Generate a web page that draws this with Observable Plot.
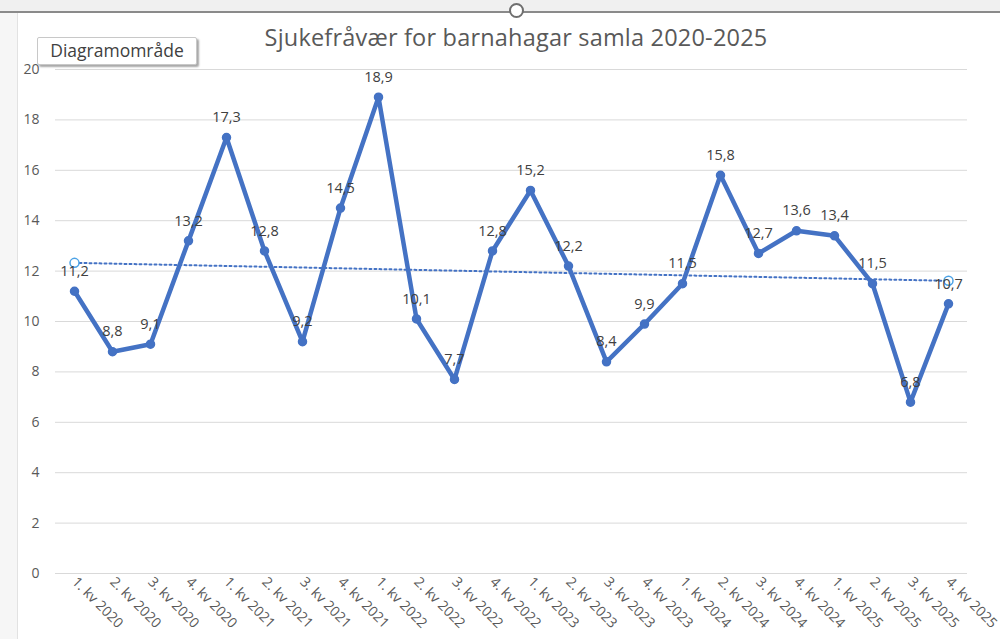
<!DOCTYPE html>
<html>
<head>
<meta charset="utf-8">
<script src="https://cdn.jsdelivr.net/npm/d3@7"></script>
<script src="https://cdn.jsdelivr.net/npm/@observablehq/plot@0.6"></script>
<style>
  html, body { margin: 0; padding: 0; width: 1000px; height: 639px; overflow: hidden; background: #f2f2f2; font-family: "Open Sans", "DejaVu Sans", sans-serif; }
  #leftstrip { position: absolute; left: 0; top: 0; width: 17px; height: 639px; background: #f6f6f6; border-right: 1px solid #e2e2e2; }
  #topstrip { position: absolute; left: 0; top: 0; width: 1000px; height: 11px; background: #f0f0f0; border-bottom: 2px solid #8a8a8a; }
  #chartbg { position: absolute; left: 18px; top: 13px; width: 982px; height: 626px; background: #ffffff; }
  #handle { position: absolute; left: 509px; top: 3px; width: 11px; height: 11px; border: 2px solid #6f6f6f; border-radius: 50%; background: #ffffff; }
  #title { position: absolute; left: 0; width: 1032px; top: 21px; text-align: center; font-size: 23.5px; color: #595959; font-family: "Open Sans", sans-serif; letter-spacing: 0.2px; }
  #tip { position: absolute; left: 37px; top: 37px; width: 158px; height: 26px; background: #ffffff; border: 1px solid #c8c8c8; border-radius: 2px; box-shadow: 2px 2px 2px rgba(0,0,0,0.35); font-size: 17.5px; color: #404040; line-height: 25px; text-align: center; }
  #plot { position: absolute; left: 0; top: 0; }
</style>
</head>
<body>
<div id="leftstrip"></div>
<div id="topstrip"></div>
<div id="chartbg"></div>
<div id="title">Sjukefråvær for barnahagar samla 2020-2025</div>
<div id="plot"></div>
<div id="handle"></div>
<div id="tip">Diagramområde</div>
<script>
const quarters = [
  "1. kv 2020","2. kv 2020","3. kv 2020","4. kv 2020",
  "1. kv 2021","2. kv 2021","3. kv 2021","4. kv 2021",
  "1. kv 2022","2. kv 2022","3. kv 2022","4. kv 2022",
  "1. kv 2023","2. kv 2023","3. kv 2023","4. kv 2023",
  "1. kv 2024","2. kv 2024","3. kv 2024","4. kv 2024",
  "1. kv 2025","2. kv 2025","3. kv 2025","4. kv 2025"
];
const values = [
  11.2, 8.8, 9.1, 13.2,
  17.3, 12.8, 9.2, 14.5,
  18.9, 10.1, 7.7, 12.8,
  15.2, 12.2, 8.4, 9.9,
  11.5, 15.8, 12.7, 13.6,
  13.4, 11.5, 6.8, 10.7
];
const yTicks = [0, 2, 4, 6, 8, 10, 12, 14, 16, 18, 20];

const data = quarters.map((q, i) => ({q, i, v: values[i]}));

// Linear trend line (least squares) derived from the data
const n = data.length;
const mx = d3.mean(data, d => d.i), my = d3.mean(data, d => d.v);
const slope = d3.sum(data, d => (d.i - mx) * (d.v - my)) / d3.sum(data, d => (d.i - mx) ** 2);
const icpt = my - slope * mx;
const trend = [
  {q: quarters[0], v: icpt},
  {q: quarters[n - 1], v: icpt + slope * (n - 1)}
];

const fmt = v => v.toFixed(1).replace(".", ",");
const blue = "#4472c4";

const chart = Plot.plot({
  width: 1000,
  height: 639,
  marginLeft: 55,
  marginRight: 33,
  marginTop: 69,
  marginBottom: 66,
  style: {background: "transparent", fontFamily: "Open Sans, sans-serif"},
  x: {type: "point", domain: quarters, padding: 0.5, axis: null},
  y: {domain: [0, 20], axis: null},
  marks: [
    Plot.gridY(yTicks, {stroke: "#d9d9d9", strokeOpacity: 1, strokeWidth: 1}),
    Plot.axisY(yTicks, {tickSize: 0, tickPadding: 16, fontSize: 14, fill: "#595959", label: null}),
    Plot.axisX({tickSize: 0, tickRotate: 45, textAnchor: "start", tickPadding: 6, fontSize: 14, fill: "#595959", label: null}),
    Plot.line(trend, {x: "q", y: "v", stroke: blue, strokeWidth: 2, strokeDasharray: "2,3"}),
    Plot.line(data, {x: "q", y: "v", stroke: blue, strokeWidth: 4.5, strokeLinejoin: "round", strokeLinecap: "round"}),
    Plot.dot(data, {x: "q", y: "v", r: 4, fill: blue, stroke: blue}),
    Plot.dot(trend, {x: "q", y: "v", r: 4.5, fill: "white", stroke: "#4da3e6", strokeWidth: 1.5}),
    Plot.text(data, {x: "q", y: "v", text: d => fmt(d.v), dy: -20, fontSize: 14.5, fill: "#404040"})
  ]
});
document.getElementById("plot").appendChild(chart);
</script>
</body>
</html>
